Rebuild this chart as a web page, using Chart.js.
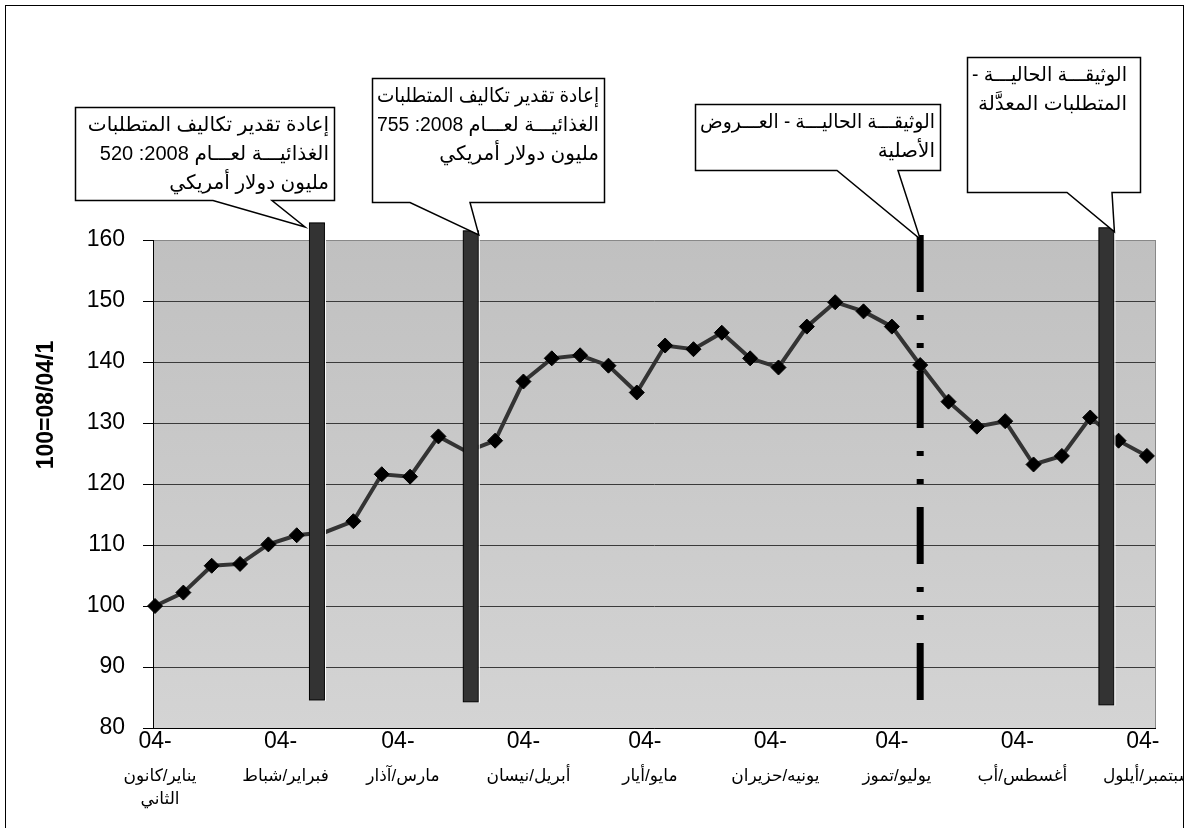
<!DOCTYPE html>
<html>
<head>
<meta charset="utf-8">
<script src="https://cdn.jsdelivr.net/npm/chart.js@4/dist/chart.umd.min.js"></script>
<style>
  html, body { margin: 0; padding: 0; background: #fff; }
  #wrap { width: 1190px; height: 828px; }
</style>
</head>
<body>
<div id="wrap"><canvas id="food-index" width="1190" height="828"></canvas></div>
<script>
/* Weekly food price index (1/04/08 = 100) with four document events. */
var weekDates = [
  "2008-01-01", "2008-01-08", "2008-01-15", "2008-01-22", "2008-01-29",
  "2008-02-05", "2008-02-12", "2008-02-19", "2008-02-26",
  "2008-03-04", "2008-03-11", "2008-03-18", "2008-03-25",
  "2008-04-01", "2008-04-08", "2008-04-15", "2008-04-22", "2008-04-29",
  "2008-05-06", "2008-05-13", "2008-05-20", "2008-05-27",
  "2008-06-03", "2008-06-10", "2008-06-17", "2008-06-24",
  "2008-07-01", "2008-07-08", "2008-07-15", "2008-07-22", "2008-07-29",
  "2008-08-05", "2008-08-12", "2008-08-19", "2008-08-26",
  "2008-09-02"
];
var indexValues = [
  100, 102.2, 106.6, 106.9, 110.1,
  111.6, 112.1, 113.9, 121.6,
  121.2, 127.8, 125.3, 127.1,
  136.8, 140.6, 141.1, 139.4, 135.0,
  142.7, 142.1, 144.8, 140.6,
  139.1, 145.8, 149.8, 148.3,
  145.8, 139.5, 133.5, 129.4, 130.3,
  123.2, 124.6, 130.9, 127.1,
  124.6
];
var monthStarts = [
  "2008-01-01", "2008-02-01", "2008-03-01", "2008-04-01", "2008-05-01",
  "2008-06-01", "2008-07-01", "2008-08-01", "2008-09-01"
];
var monthTickText = "04-";
var monthNames = [
  ["يناير/كانون", "الثاني"], ["فبراير/شباط"], ["مارس/آذار"], ["أبريل/نيسان"],
  ["مايو/أيار"], ["يونيه/حزيران"], ["يوليو/تموز"], ["أغسطس/أب"], ["سبتمبر/أيلول"]
];
var yMin = 80, yMax = 160, yStep = 10;
var yTitle = "100=08/04/1";

// event markers: date, bottom and top of the vertical mark (index units)
var eventDates = ["2008-02-10", "2008-03-19", "2008-07-08", "2008-08-23"];
var eventLow = [84.6, 84.3, 84.6, 83.8];
var eventHigh = [162.8, 161.5, 160.8, 162];
var eventKind = ["bar", "bar", "dashdot", "bar"];

var calloutText = [
  ["إعادة تقدير تكاليف المتطلبات", "الغذائيـــة لعـــام 2008: 520", "مليون دولار أمريكي"],
  ["إعادة تقدير تكاليف المتطلبات", "الغذائيـــة لعـــام 2008: 755", "مليون دولار أمريكي"],
  ["الوثيقـــة الحاليـــة - العـــروض", "الأصلية"],
  ["الوثيقـــة الحاليـــة -", "المتطلبات المعدَّلة"]
];
// box: left, top, right, bottom; tail base x pair; tip offset from the event top
var calloutBox = [[75, 107, 334, 200], [372, 78, 604, 202], [695, 104, 940, 170], [967, 57, 1140, 192]];
var calloutTail = [[213, 272], [410, 470], [837, 898], [1067, 1112]];
var calloutTipDx = [-12, 8, 0, 8];
var calloutPad = [5, 5, 5, 13];

var FONT = "Arial, 'Liberation Sans', 'DejaVu Sans', sans-serif";

function dayOf(s) {
  var p = s.split("-");
  return (Date.UTC(+p[0], +p[1] - 1, +p[2]) - Date.UTC(2008, 0, 1)) / 864e5;
}

var points = weekDates.map(function (d, i) { return { x: dayOf(d), y: indexValues[i] }; });

// a marker sitting under one of the solid bars is covered by it
function coveredByBar(day) {
  return eventDates.some(function (d, i) {
    return eventKind[i] === "bar" && Math.abs(dayOf(d) - day) <= 2;
  });
}

var overlay = {
  id: "overlay",
  beforeDraw: function (chart) {
    var a = chart.chartArea, ctx = chart.ctx;
    var g = ctx.createLinearGradient(0, a.top, 0, a.bottom);
    g.addColorStop(0, "#c0c0c0");
    g.addColorStop(1, "#d4d4d4");
    ctx.save();
    ctx.fillStyle = g;
    ctx.fillRect(a.left, a.top, a.right - a.left, a.bottom - a.top);
    ctx.restore();
  },
  afterDatasetsDraw: function (chart) {
    var a = chart.chartArea, ctx = chart.ctx;
    var xs = chart.scales.x, ys = chart.scales.y;
    ctx.save();
    // right border of the plot
    ctx.strokeStyle = "#888";
    ctx.lineWidth = 1;
    ctx.beginPath();
    ctx.moveTo(a.right + 0.5, a.top);
    ctx.lineTo(a.right + 0.5, a.bottom);
    ctx.stroke();
    eventDates.forEach(function (d, i) {
      var x = xs.getPixelForValue(dayOf(d));
      var top = ys.getPixelForValue(eventHigh[i]);
      var bot = ys.getPixelForValue(eventLow[i]);
      if (eventKind[i] === "bar") {
        ctx.fillStyle = "#333";
        ctx.fillRect(x - 7.5, top, 15, bot - top);
        ctx.strokeStyle = "#000";
        ctx.lineWidth = 1;
        ctx.strokeRect(x - 7.5, top, 15, bot - top);
        ctx.strokeStyle = "#fff";
        ctx.beginPath();
        ctx.moveTo(x + 8.5, top + 2);
        ctx.lineTo(x + 8.5, bot + 1);
        ctx.stroke();
      } else {
        ctx.strokeStyle = "#000";
        ctx.lineWidth = 7;
        ctx.lineCap = "butt";
        ctx.setLineDash([57, 23, 5, 23, 5, 23]);
        ctx.beginPath();
        ctx.moveTo(x, top);
        ctx.lineTo(x, bot);
        ctx.stroke();
        ctx.setLineDash([]);
      }
    });
    ctx.restore();
  },
  afterDraw: function (chart) {
    var a = chart.chartArea, ctx = chart.ctx;
    var xs = chart.scales.x, ys = chart.scales.y;
    ctx.save();
    // month names under the "04-" ticks
    ctx.beginPath();
    ctx.rect(0, 0, 1183, 828);
    ctx.clip();
    ctx.fillStyle = "#000";
    ctx.font = "17px " + FONT;
    ctx.textAlign = "center";
    ctx.textBaseline = "middle";
    ctx.direction = "rtl";
    xs.ticks.forEach(function (t, i) {
      var x = xs.getPixelForValue(t.value) + 5;
      (monthNames[i] || []).forEach(function (line, j) {
        ctx.fillText(line, x, a.bottom + 48 + j * 23);
      });
    });
    ctx.restore();

    // y axis title
    ctx.save();
    ctx.translate(47, 405);
    ctx.rotate(-Math.PI / 2);
    ctx.font = "bold 23px " + FONT;
    ctx.fillStyle = "#000";
    ctx.textAlign = "center";
    ctx.textBaseline = "middle";
    ctx.fillText(yTitle, 0, 0);
    ctx.restore();

    // callouts
    calloutBox.forEach(function (b, i) {
      var ex = xs.getPixelForValue(dayOf(eventDates[i]));
      var tipX = ex + calloutTipDx[i];
      var tipY = ys.getPixelForValue(eventHigh[i]) + 4;
      var t = calloutTail[i];
      ctx.save();
      ctx.beginPath();
      ctx.moveTo(b[0] + 0.5, b[1] + 0.5);
      ctx.lineTo(b[2] + 0.5, b[1] + 0.5);
      ctx.lineTo(b[2] + 0.5, b[3] + 0.5);
      ctx.lineTo(t[1], b[3] + 0.5);
      ctx.lineTo(tipX, tipY);
      ctx.lineTo(t[0], b[3] + 0.5);
      ctx.lineTo(b[0] + 0.5, b[3] + 0.5);
      ctx.closePath();
      ctx.fillStyle = "#fff";
      ctx.fill();
      ctx.strokeStyle = "#000";
      ctx.lineWidth = 1.5;
      ctx.stroke();
      ctx.fillStyle = "#000";
      ctx.font = "20px " + FONT;
      ctx.direction = "rtl";
      ctx.textAlign = "right";
      ctx.textBaseline = "middle";
      var maxW = b[2] - b[0] - calloutPad[i] - 5;
      calloutText[i].forEach(function (line, j) {
        ctx.fillText(line, b[2] - calloutPad[i], b[1] + 18 + j * 29, maxW);
      });
      ctx.restore();
    });

    // outer frame
    ctx.save();
    ctx.strokeStyle = "#000";
    ctx.lineWidth = 1;
    ctx.strokeRect(5.5, 5.5, 1178, 840);
    ctx.restore();
  }
};

new Chart(document.getElementById("food-index"), {
  type: "line",
  data: {
    datasets: [{
      data: points,
      borderColor: "#333",
      borderWidth: 4,
      tension: 0,
      pointStyle: "rectRot",
      pointRadius: function (c) {
        return c.raw && coveredByBar(c.raw.x) ? 0 : 7.5;
      },
      pointBackgroundColor: "#000",
      pointBorderColor: "#000",
      pointBorderWidth: 1,
      clip: false
    }]
  },
  options: {
    responsive: false,
    devicePixelRatio: 1,
    animation: false,
    events: [],
    layout: { padding: { left: 0, top: 240, right: 35, bottom: 0 } },
    plugins: { legend: { display: false }, tooltip: { enabled: false } },
    scales: {
      x: {
        type: "linear",
        min: -0.5,
        max: 247,
        afterFit: function (s) { s.height = 100; },
        afterBuildTicks: function (s) {
          s.ticks = monthStarts.map(function (d) { return { value: dayOf(d) }; });
        },
        grid: { display: false, drawTicks: false },
        border: { display: true, color: "#000", width: 1 },
        ticks: {
          autoSkip: false,
          maxRotation: 0,
          padding: 0,
          color: "#000",
          font: { family: FONT, size: 23 },
          callback: function () { return monthTickText; }
        }
      },
      y: {
        min: yMin,
        max: yMax,
        afterFit: function (s) { s.width = 153; },
        grid: {
          color: function (c) { return c.tick && c.tick.value === yMax ? "#888" : "#3a3a3a"; },
          tickColor: "#000",
          tickLength: 10,
          lineWidth: 1
        },
        border: { display: true, color: "#000", width: 1 },
        ticks: {
          stepSize: yStep,
          padding: 18,
          color: "#000",
          font: { family: FONT, size: 23 }
        }
      }
    }
  },
  plugins: [overlay]
});
</script>
</body>
</html>
